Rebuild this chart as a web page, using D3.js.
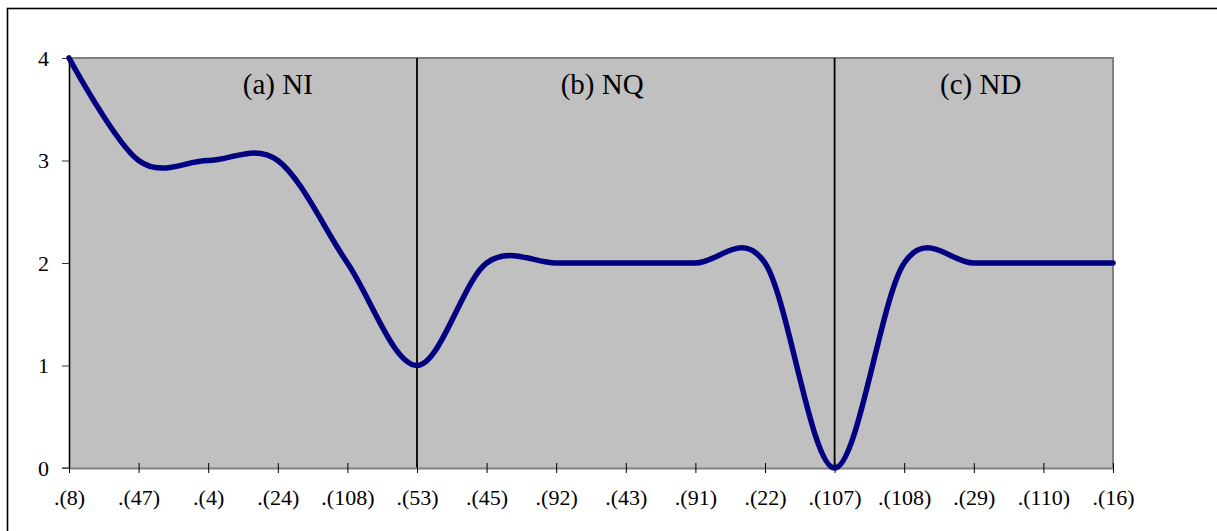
<!DOCTYPE html>
<html>
<head>
<meta charset="utf-8">
<script src="https://cdn.jsdelivr.net/npm/d3@7/dist/d3.min.js"></script>
<style>
  html, body { margin: 0; padding: 0; background: #fff; }
  svg { display: block; }
  text { font-family: "Liberation Serif", "Times New Roman", "DejaVu Serif", serif; fill: #000; }
</style>
</head>
<body>
<svg id="chart" width="1217" height="531"></svg>
<script>
// ---- data ----
const categories = [".(8)", ".(47)", ".(4)", ".(24)", ".(108)", ".(53)", ".(45)", ".(92)",
                    ".(43)", ".(91)", ".(22)", ".(107)", ".(108)", ".(29)", ".(110)", ".(16)"];
const values = [4, 3, 3, 3, 2, 1, 2, 2, 2, 2, 2, 0, 2, 2, 2, 2];
const yTicks = [0, 1, 2, 3, 4];
const panelLabels = ["(a) NI", "(b) NQ", "(c) ND"];
const dividerIndices = [5, 11];

// ---- layout ----
const W = 1217, H = 531;
const plot = { left: 69, right: 1113, top: 58, bottom: 468 };
const panelLabelPos = [3.0, 7.66, 13.1]; // in category-index units

const svg = d3.select("#chart");

// outer frame
svg.append("rect")
  .attr("x", 7.5).attr("y", 8.5)
  .attr("width", W + 10).attr("height", H + 10)
  .attr("fill", "#fff").attr("stroke", "#000").attr("stroke-width", 1.6);

const x = d3.scaleLinear().domain([0, categories.length - 1]).range([plot.left, plot.right]);
const y = d3.scaleLinear().domain([0, 4]).range([plot.bottom, plot.top]);

// plot area
svg.append("rect")
  .attr("x", plot.left).attr("y", plot.top)
  .attr("width", plot.right - plot.left).attr("height", plot.bottom - plot.top)
  .attr("fill", "#c0c0c0");
svg.append("path")
  .attr("d", `M${plot.left},${plot.top}H${plot.right}V${plot.bottom}`)
  .attr("fill", "none").attr("stroke", "#808080").attr("stroke-width", 2);

// dividers
svg.append("g").selectAll("line").data(dividerIndices).join("line")
  .attr("x1", d => x(d)).attr("x2", d => x(d))
  .attr("y1", plot.top).attr("y2", plot.bottom)
  .attr("stroke", "#000").attr("stroke-width", 1.8);

// panel labels
svg.append("g").selectAll("text").data(panelLabels).join("text")
  .attr("x", (d, i) => x(panelLabelPos[i]))
  .attr("y", 94)
  .attr("text-anchor", "middle")
  .attr("font-size", 29)
  .text(d => d);

// x axis
const xAxis = d3.axisBottom(x)
  .tickValues(d3.range(categories.length))
  .tickFormat(i => categories[i])
  .tickSizeInner(5).tickSizeOuter(0).tickPadding(20);
const gx = svg.append("g").attr("transform", `translate(0,${plot.bottom})`).call(xAxis);
gx.attr("font-family", null).attr("font-size", null);
gx.select(".domain").attr("stroke", "#808080").attr("stroke-width", 2);
gx.selectAll(".tick line").attr("y1", -5).attr("y2", 5).attr("stroke", "#000").attr("stroke-width", 1);
gx.selectAll(".tick text").attr("font-size", 22).attr("dy", null).attr("y", 37);

// y axis
const yAxis = d3.axisLeft(y).tickValues(yTicks).tickFormat(d3.format("d"))
  .tickSizeInner(7).tickSizeOuter(0).tickPadding(13);
const gy = svg.append("g").attr("transform", `translate(${plot.left},0)`).call(yAxis);
gy.attr("font-family", null).attr("font-size", null);
gy.select(".domain").attr("stroke", "#000").attr("stroke-width", 1.6);
gy.selectAll(".tick line").attr("stroke", "#333").attr("stroke-width", 1);
gy.selectAll(".tick text").attr("font-size", 22).attr("dy", "0.32em");

// x axis extension to the y tick at 0
svg.append("line")
  .attr("x1", plot.left - 7).attr("x2", plot.left)
  .attr("y1", plot.bottom).attr("y2", plot.bottom)
  .attr("stroke", "#555").attr("stroke-width", 1.5);

// smoothed line
const line = d3.line()
  .x((d, i) => x(i))
  .y(d => y(d))
  .curve(d3.curveCatmullRom.alpha(0));
svg.append("path")
  .datum(values)
  .attr("d", line)
  .attr("fill", "none")
  .attr("stroke", "#000080")
  .attr("stroke-width", 5.5)
  .attr("stroke-linejoin", "round")
  .attr("stroke-linecap", "round");
</script>
</body>
</html>
